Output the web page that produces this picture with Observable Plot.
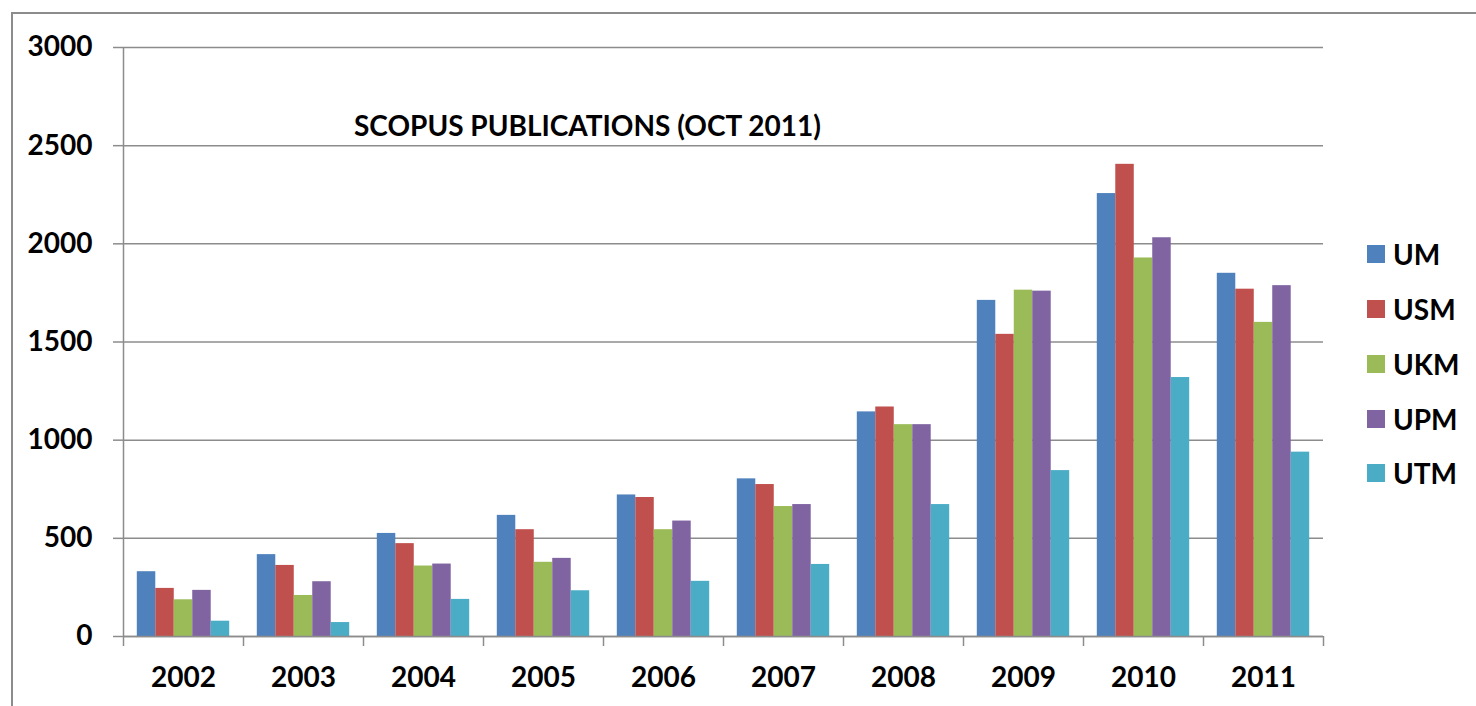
<!DOCTYPE html>
<html>
<head>
<meta charset="utf-8">
<script src="https://cdn.jsdelivr.net/npm/d3@7"></script>
<script src="https://cdn.jsdelivr.net/npm/@observablehq/plot@0.6"></script>
<style>
  html, body { margin: 0; padding: 0; background: #fff; overflow: hidden; }
  body { width: 1476px; height: 706px; position: relative; font-family: Lato, "Open Sans", sans-serif; font-weight: bold; }
  #frame { position: absolute; left: 11px; top: 12px; width: 1500px; height: 720px; border-left: 2px solid #8c8c8c; border-top: 2px solid #8c8c8c; }
  #chart { position: absolute; left: 0; top: 0; }
  #title { position: absolute; left: 354px; top: 110px; font-size: 28px; line-height: 30px; white-space: nowrap; color: #000; }
  #legend { position: absolute; left: 1367px; top: 227px; }
  .row { display: flex; align-items: center; height: 54.75px; font-size: 28px; line-height: 54px; color: #000; }
  .sw { width: 18px; height: 18px; margin-right: 8px; }
</style>
</head>
<body>
<div id="frame"></div>
<div id="chart"></div>
<div id="title"></div>
<div id="legend"></div>
<script>
const years = [2002, 2003, 2004, 2005, 2006, 2007, 2008, 2009, 2010, 2011];
const unis = ["UM", "USM", "UKM", "UPM", "UTM"];
const colors = ["#4F81BD", "#C0504D", "#9BBB59", "#8064A2", "#4BACC6"];
const UM  = [330, 417, 525, 617, 721, 803, 1144, 1712, 2256, 1850];
const USM = [245, 362, 473, 544, 708, 774, 1169, 1539, 2405, 1769];
const UKM = [187, 209, 359, 378, 544, 662, 1079, 1764, 1928, 1600];
const UPM = [235, 279, 369, 398, 588, 672, 1079, 1759, 2031, 1787];
const UTM = [78, 71, 189, 233, 281, 367, 672, 845, 1319, 939];
const yTicks = [0, 500, 1000, 1500, 2000, 2500, 3000];
const title = "SCOPUS PUBLICATIONS (OCT 2011)";

const series = {UM, USM, UKM, UPM, UTM};
const rows = unis.flatMap((u, k) => years.map((yr, i) => ({year: yr, uni: u, k, value: series[u][i]})));

const groupWidth = 0.77;           // fraction of each year's slot used by the 5 bars
const barW = groupWidth / unis.length;
const xDomain = [years[0] - 0.5, years[years.length - 1] + 0.5];
const bounds = years.map(y => y - 0.5).concat([years[years.length - 1] + 0.5]);
const gray = "#8c8c8c";

const chart = Plot.plot({
  width: 1476,
  height: 706,
  marginLeft: 123,
  marginRight: 153,
  marginTop: 47,
  marginBottom: 70,
  style: {fontFamily: "Lato, 'Open Sans', sans-serif", fontSize: "28px", fontWeight: "bold", color: "#000", background: "transparent"},
  x: {domain: xDomain},
  y: {domain: [0, 3000]},
  color: {domain: unis, range: colors},
  marks: [
    Plot.gridY(yTicks, {stroke: gray, strokeOpacity: 1, strokeWidth: 1.5}),
    Plot.rect(rows, {
      x1: d => d.year - groupWidth / 2 + d.k * barW,
      x2: d => d.year - groupWidth / 2 + (d.k + 1) * barW,
      y1: 0,
      y2: "value",
      fill: "uni"
    }),
    Plot.ruleX([xDomain[0]], {stroke: gray, strokeWidth: 1.5}),
    Plot.ruleY([0], {stroke: gray, strokeWidth: 1.5}),
    Plot.axisY(yTicks, {tickSize: 10, tickPadding: 21, stroke: gray, strokeWidth: 1.5, fill: "#000", fontSize: 28, fontWeight: "bold", label: null, tickFormat: d => String(d)}),
    Plot.axisX(bounds, {tickSize: 10, stroke: gray, strokeWidth: 1.5, tickFormat: () => "", label: null}),
    Plot.axisX(years, {tickSize: 0, tickPadding: 31, fill: "#000", fontSize: 28, fontWeight: "bold", label: null, tickFormat: d => String(d)})
  ]
});
document.getElementById("chart").appendChild(chart);

const legend = document.getElementById("legend");
unis.forEach((u, i) => {
  const row = document.createElement("div");
  row.className = "row";
  const sw = document.createElement("div");
  sw.className = "sw";
  sw.style.background = colors[i];
  row.appendChild(sw);
  const t = document.createElement("span");
  t.textContent = u;
  row.appendChild(t);
  legend.appendChild(row);
});
document.getElementById("title").textContent = title;
</script>
</body>
</html>
